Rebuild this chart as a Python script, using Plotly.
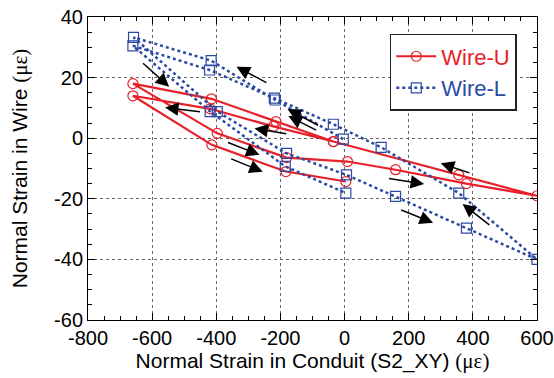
import plotly.graph_objects as go

# Wire-U (red) path: conduit strain vs wire strain
u_x = [-35, -214, -415, -660, -397, -181, 9, 159, 380, 600, 356, -35, -222, -419, -660, -414, -183, 4]
u_y = [-1.1, 5.5, 13.0, 18.0, 1.6, -6.4, -7.7, -10.4, -15.0, -19.0, -12.1, -1.1, 3.9, 9.7, 14.0, -2.2, -11.0, -14.3]

# Wire-L (blue) path
l_x = [-4, -216, -416, -658, -397, -181, 6, 159, 380, 600, 356, 114, -35, -219, -421, -660, -419, -185, 4]
l_y = [-0.3, 12.6, 25.6, 33.3, 8.8, -5.0, -12.1, -19.2, -29.7, -40.0, -18.1, -3.0, 4.6, 13.2, 22.5, 30.5, 8.8, -9.3, -18.1]

# direction arrows: tail (x0, y0) -> head (x1, y1)
arr_x0 = [-633, -239, -446, -78, -84, -177, -368, -358, 134, 394, 456, 172]
arr_y0 = [25.2, 18.1, 8.7, 4.0, 2.4, 1.4, -1.2, -6.6, -13.2, -11.6, -29.0, -23.5]
arr_x1 = [-547, -337, -560, -178, -175, -281, -265, -255, 248, 300, 368, 276]
arr_y1 = [17.0, 23.6, 10.1, 9.6, 7.3, 3.2, -5.5, -11.1, -15.1, -8.3, -21.7, -27.9]

x_ticks = [-800, -600, -400, -200, 0, 200, 400, 600]
x_labels = ["-800", "-600", "-400", "-200", "0", "200", "400", "600"]
y_ticks = [40, 20, 0, -20, -40, -60]
y_labels = ["40", "20", "0", "-20", "-40", "-60"]

RED = "#e62129"
BLUE = "#2a4aa3"
FONT = "Liberation Sans, Arial, Helvetica, sans-serif"
GREEK = "<span style='font-family:Liberation Serif'>(με)</span>"

fig = go.Figure()
fig.add_trace(go.Scatter(
    x=u_x, y=u_y, mode="lines+markers",
    name=f"<span style='color:{RED}'>Wire-U</span>",
    line=dict(color=RED, width=2.2),
    marker=dict(symbol="circle-open", size=10, color=RED, line=dict(width=1.2)),
))
fig.add_trace(go.Scatter(
    x=l_x, y=l_y, mode="lines+markers",
    name=f"<span style='color:{BLUE}'>Wire-L</span>",
    line=dict(color=BLUE, width=2.5, dash="dot"),
    marker=dict(symbol="square-open", size=10, color=BLUE, line=dict(width=1.2)),
))

for x0, y0, x1, y1 in zip(arr_x0, arr_y0, arr_x1, arr_y1):
    fig.add_annotation(
        x=x1, y=y1, ax=x0, ay=y0, xref="x", yref="y", axref="x", ayref="y",
        text="", showarrow=True, arrowhead=2, arrowsize=1.8, arrowwidth=1.5,
        arrowcolor="black", standoff=0,
    )

axis_common = dict(
    showline=True, linecolor="black", linewidth=1, mirror="ticks",
    ticks="inside", ticklen=7, tickcolor="black", tickwidth=1,
    showgrid=True, gridcolor="#666666", gridwidth=1, griddash="dot",
    zeroline=False, automargin=False, ticklabeloverflow="allow",
    tickfont=dict(family=FONT, size=20, color="black"),
)

fig.update_xaxes(
    range=[-800, 600], tickvals=x_ticks, ticktext=x_labels,
    minor=dict(ticks="inside", dtick=50, ticklen=4, tickcolor="black", showgrid=False),
    title=dict(text=f"Normal Strain in Conduit (S2_XY) {GREEK}",
               font=dict(family=FONT, size=21, color="black"),
               standoff=4),
    **axis_common,
)
fig.update_yaxes(
    range=[-60, 40], tickvals=y_ticks, ticktext=y_labels,
    minor=dict(ticks="inside", dtick=5, ticklen=4, tickcolor="black", showgrid=False),
    title=dict(text=f"Normal Strain in Wire {GREEK}",
               font=dict(family=FONT, size=21, color="black"),
               standoff=20),
    **axis_common,
)

fig.update_layout(
    width=554, height=378,
    margin=dict(l=88, r=17, t=17, b=58),
    paper_bgcolor="white", plot_bgcolor="white",
    showlegend=True,
    legend=dict(
        x=0.955, y=0.944, xanchor="right", yanchor="top",
        bgcolor="white", bordercolor="#222222", borderwidth=1.5,
        font=dict(family=FONT, size=22),
        tracegroupgap=0, itemwidth=40,
    ),
)

fig.write_html(
    "out.html",
    config={"displayModeBar": False},
    post_script="document.body.style.margin='0';document.body.style.overflow='hidden';",
)
